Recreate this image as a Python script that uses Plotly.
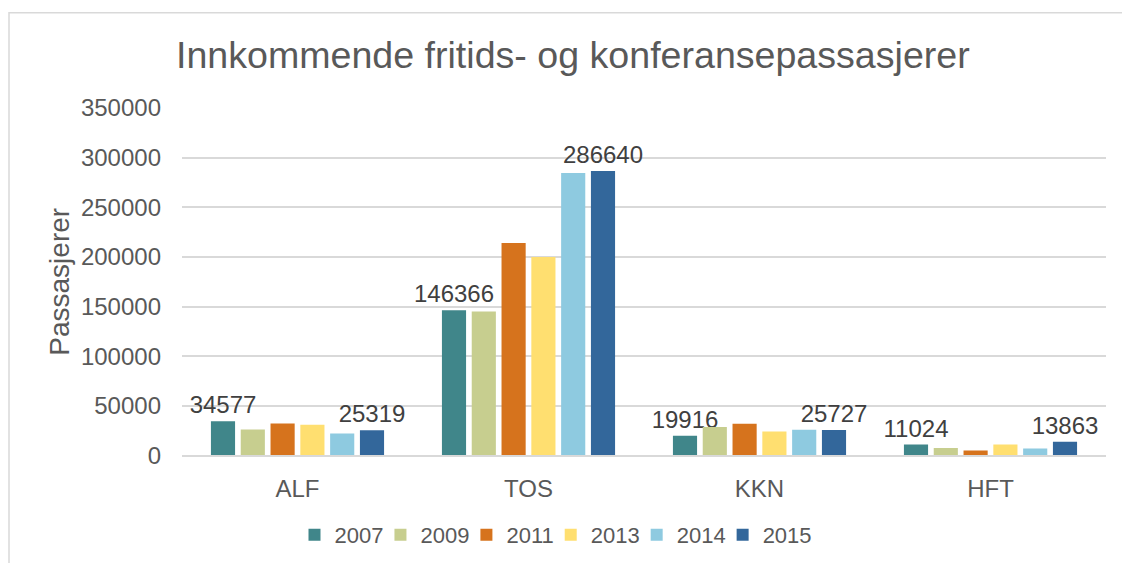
import plotly.graph_objects as go

categories = ["ALF", "TOS", "KKN", "HFT"]
years = ["2007", "2009", "2011", "2013", "2014", "2015"]
v2007 = [34577, 146366, 19916, 11024]
v2009 = [26200, 145000, 28600, 7400]
v2011 = [32300, 214000, 32000, 5000]
v2013 = [31000, 200000, 24200, 11000]
v2014 = [22200, 284500, 25900, 7100]
v2015 = [25319, 286640, 25727, 13863]
labelled = {"2007", "2015"}
y_ticks = [0, 50000, 100000, 150000, 200000, 250000, 300000, 350000]

series = [v2007, v2009, v2011, v2013, v2014, v2015]
colors = ["#40868A", "#C7CE8F", "#D6731D", "#FFDF70", "#8ECAE0", "#33679B"]

FONT = "Liberation Sans, Arial, sans-serif"
fig = go.Figure()
for y, vals, c in zip(years, series, colors):
    show = y in labelled
    fig.add_trace(go.Bar(
        x=categories, y=vals, name=y, marker=dict(color=c, line=dict(width=0)),
        text=[str(v) for v in vals] if show else None,
        textposition="outside" if show else "none",
        constraintext="none",
        textfont=dict(size=24, color="#404040", family=FONT),
        cliponaxis=False, showlegend=False,
    ))
# legend entries with small square swatches
for y, c in zip(years, colors):
    fig.add_trace(go.Scatter(
        x=[None], y=[None], mode="markers", name=y,
        marker=dict(symbol="square", size=12, color=c), showlegend=True,
    ))

W, H = 1122, 563
L, R, T, B = 182, 16, 108, 105
pw = W - L - R
ph = H - T - B

fig.update_layout(
    width=W, height=H,
    margin=dict(l=L, r=R, t=T, b=B),
    paper_bgcolor="white", plot_bgcolor="white",
    font=dict(family=FONT, color="#595959", size=24),
    barmode="group", bargap=0.226, bargroupgap=0.19,
    title=dict(text="Innkommende fritids- og konferansepassasjerer",
               x=176 / W, xref="container", xanchor="left",
               y=1 - 55 / H, yref="container", yanchor="middle",
               font=dict(size=37.6, color="#595959")),
    xaxis=dict(showgrid=False, showline=True, linecolor="#D9D9D9", linewidth=1.5,
               ticks="", tickfont=dict(size=24), ticklabelstandoff=11),
    yaxis=dict(range=[0, 350000], tickvals=y_ticks, ticktext=[str(v) for v in y_ticks],
               showgrid=True, gridcolor="#D9D9D9", gridwidth=1.5, zeroline=False,
               showline=False, ticks="", tickfont=dict(size=24), ticklabelstandoff=20),
    legend=dict(orientation="h", x=560 / W, xref="container", xanchor="center",
                y=1 - 535 / H, yref="container", yanchor="middle",
                font=dict(size=22), traceorder="normal", itemwidth=30,
                tracegroupgap=0, indentation=-8),
    showlegend=True,
)

fig.add_annotation(text="Passasjerer", textangle=-90, x=(60 - L) / pw, xref="paper",
                   y=0.5, yref="paper", showarrow=False, font=dict(size=28, color="#595959"),
                   xanchor="center", yanchor="middle")

# chart area border
fig.add_shape(type="rect", xref="paper", yref="paper",
              x0=(9 - L) / pw, x1=(W + 5 - L) / pw,
              y0=-(H + 5 - T - ph) / ph, y1=(H - B - 12) / ph,
              line=dict(color="#D9D9D9", width=1.5), layer="below")

fig.write_html("out.html", config={"displayModeBar": False},
               post_script="document.body.style.margin='0px';")
